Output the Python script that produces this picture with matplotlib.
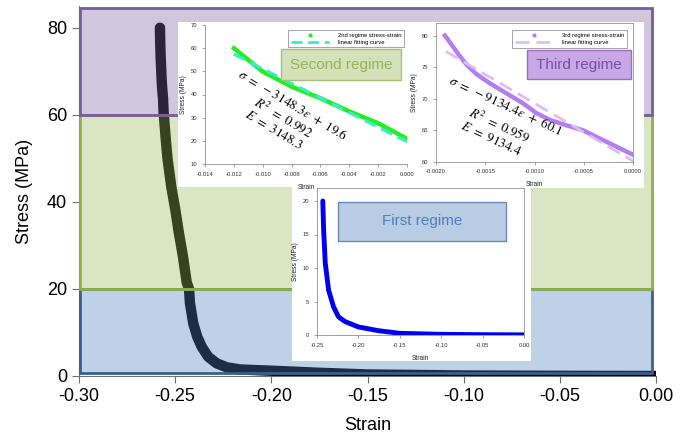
import matplotlib
matplotlib.use('Agg')
import matplotlib.pyplot as plt
from matplotlib.patches import Rectangle
from matplotlib.lines import Line2D
from matplotlib.ticker import FormatStrFormatter

plt.rcParams['font.family'] = ['Liberation Sans', 'DejaVu Sans']
plt.rcParams['mathtext.fontset'] = 'stix'

# ---------------- data ----------------
main_strain = [-0.2579, -0.2578, -0.2576, -0.2573, -0.2570, -0.2567, -0.2563, -0.2560,
               -0.2550, -0.2540, -0.2520, -0.2500, -0.2480, -0.2460, -0.2440,
               -0.2428, -0.2423, -0.2406, -0.2385, -0.2362, -0.2328, -0.2284,
               -0.2232, -0.2163, -0.1990, -0.1760, -0.1500, -0.1000, -0.0500, 0.0000]
main_stress = [80.0, 77.2, 73.8, 70.8, 67.7, 65.8, 63.7, 60.5,
               55.0, 50.0, 43.4, 38.4, 32.7, 27.6, 21.5,
               20.0, 16.7, 12.1, 9.0, 6.7, 4.4, 2.9,
               2.0, 1.5, 1.2, 0.75, 0.35, 0.12, 0.04, 0.0]

regime_low = [0.6, 20, 60]
regime_high = [20, 60, 84.6]
regime_fill = ['#4F81BD', '#9BBB59', '#8064A2']
regime_edge = ['#3A5F8E', '#8DB04A', '#7A5C9E']

first_strain = [-0.243, -0.242, -0.240, -0.236, -0.230, -0.224, -0.216, -0.200,
                -0.176, -0.150, -0.100, -0.050, 0.000]
first_stress = [20.0, 15.7, 10.7, 6.7, 4.2, 2.7, 2.0, 1.2, 0.65, 0.25, 0.1, 0.05, 0.02]

second_strain = [-0.012, -0.011, -0.010, -0.008, -0.006, -0.004, -0.002, 0.000]
second_stress = [60.0, 54.9, 49.9, 43.4, 38.4, 32.7, 27.6, 20.9]
second_fit_strain = [-0.012, 0.000]
second_fit_stress = [57.4, 19.6]

third_strain = [-0.00191, -0.00188, -0.00183, -0.00177, -0.00169, -0.00159, -0.00146,
                -0.00128, -0.00112, -0.00098, -0.00084, -0.00068, -0.00051, -0.00034,
                -0.00017, 0.0]
third_stress = [80.0, 79.4, 78.3, 77.0, 75.4, 73.9, 72.5, 70.8, 69.3, 67.7, 66.6, 65.8,
                65.0, 63.7, 62.4, 61.1]
third_fit_strain = [-0.0019, 0.0000]
third_fit_stress = [77.5, 60.1]

main_xticks = [-0.30, -0.25, -0.20, -0.15, -0.10, -0.05, 0.00]
main_yticks = [0, 20, 40, 60, 80]
first_xticks = [-0.25, -0.20, -0.15, -0.10, -0.05, 0.00]
first_yticks = [0, 5, 10, 15, 20]
second_xticks = [-0.014, -0.012, -0.010, -0.008, -0.006, -0.004, -0.002, 0.000]
second_yticks = [10, 20, 30, 40, 50, 60, 70]
third_xticks = [-0.0020, -0.0015, -0.0010, -0.0005, 0.0000]
third_yticks = [60, 65, 70, 75, 80]

eq2 = [r'$\sigma\ =\ -3148.3\varepsilon\ +\ 19.6$', r'$R^2\ =\ 0.992$', r'$E\ =\ 3148.3$']
eq3 = [r'$\sigma\ =\ -9134.4\varepsilon\ +\ 60.1$', r'$R^2\ =\ 0.959$', r'$E\ =\ 9134.4$']

# ---------------- figure ----------------
W, H = 681, 438
fig = plt.figure(figsize=(W / 100, H / 100), dpi=100)


def fx(px):
    return px / W


def fy(py):
    return 1 - py / H


def rect_px(x0, y0, x1, y1):
    return [fx(x0), fy(y1), fx(x1) - fx(x0), fy(y0) - fy(y1)]


ax = fig.add_axes(rect_px(79, 6, 656, 376))
ax.set_zorder(0)
ax.plot(main_strain, main_stress, color='black', lw=7.5, solid_capstyle='round',
        solid_joinstyle='round', zorder=1)
for lo, hi, fc, ec in zip(regime_low, regime_high, regime_fill, regime_edge):
    ax.add_patch(Rectangle((-0.2995, lo), 0.2975, hi - lo, facecolor=fc, alpha=0.36,
                           edgecolor='none', zorder=2))
    ax.add_patch(Rectangle((-0.2995, lo), 0.2975, hi - lo, facecolor='none',
                           edgecolor=ec, lw=2.0, zorder=3))
ax.set_xlim(-0.30, 0.0)
ax.set_ylim(0, 85)
ax.set_xticks(main_xticks)
ax.set_yticks(main_yticks)
ax.xaxis.set_major_formatter(FormatStrFormatter('%.2f'))
ax.tick_params(labelsize=13, length=5, color='#707070', direction='out')
for s in ['top', 'right']:
    ax.spines[s].set_visible(False)
for s in ['left', 'bottom']:
    ax.spines[s].set_color('#707070')
ax.set_xlabel('Strain', fontsize=13, labelpad=9)
ax.set_ylabel('Stress (MPa)', fontsize=13, labelpad=10)

# white backgrounds of inset pictures
for (x0, y0, x1, y1) in [(178, 22, 410, 187), (403, 22, 644, 188), (292, 186, 531, 361)]:
    fig.patches.append(Rectangle((fx(x0), fy(y1)), fx(x1) - fx(x0), fy(y0) - fy(y1),
                                 transform=fig.transFigure, facecolor='white',
                                 edgecolor='none', zorder=2))

tick_kw = dict(labelsize=4.2, length=2, width=0.5, color='#808080', labelcolor='#333333')

# ---- second regime inset ----
a2 = fig.add_axes(rect_px(205, 25, 407, 164))
a2.set_zorder(3)
a2.plot(second_strain, second_stress, color='#22EE22', lw=3.2, zorder=3,
        solid_joinstyle='round')
a2.plot(second_fit_strain, second_fit_stress, color='#3CEBC8', lw=2.2, ls=(0, (4, 2)), zorder=4)
a2.set_xlim(-0.014, 0.0)
a2.set_ylim(10, 70)
a2.set_xticks(second_xticks)
a2.set_yticks(second_yticks)
a2.xaxis.set_major_formatter(FormatStrFormatter('%.3f'))
a2.tick_params(**tick_kw)
for s in ['top', 'right']:
    a2.spines[s].set_visible(False)
for s in ['left', 'bottom']:
    a2.spines[s].set_color('#909090')
    a2.spines[s].set_linewidth(0.6)
a2.set_xlabel('Strain', fontsize=4.8, labelpad=5, color='#222222')
a2.set_ylabel('Stress (MPa)', fontsize=4.8, labelpad=3, color='#222222')
h2 = [Line2D([], [], color='#22EE22', marker='o', ms=2, ls='none'),
      Line2D([], [], color='#3CEBC8', lw=2, ls=(0, (4, 2)))]
lg2 = a2.legend(h2, ['2nd regime stress-strain', 'linear fitting curve'], loc='upper right',
                bbox_to_anchor=(1.0, 0.985), fontsize=4.2, fancybox=False, framealpha=1,
                edgecolor='#808080', handlelength=6.5, borderpad=0.5, labelspacing=0.25,
                handletextpad=1.5)
lg2.get_frame().set_linewidth(0.5)

# ---- third regime inset ----
a3 = fig.add_axes(rect_px(436, 23, 633, 161.7))
a3.set_zorder(3)
a3.plot(third_strain, third_stress, color='#B57EF0', lw=3.2, zorder=3, solid_joinstyle='round')
a3.plot(third_fit_strain, third_fit_stress, color='#DDBDF5', lw=2.0, ls=(0, (5, 2.5)), zorder=4)
a3.set_xlim(-0.0020, 0.0)
a3.set_ylim(60, 82)
a3.set_xticks(third_xticks)
a3.set_yticks(third_yticks)
a3.xaxis.set_major_formatter(FormatStrFormatter('%.4f'))
a3.tick_params(**tick_kw)
for s in a3.spines.values():
    s.set_color('#909090')
    s.set_linewidth(0.6)
a3.set_xlabel('Strain', fontsize=4.8, labelpad=5, color='#222222')
a3.set_ylabel('Stress (MPa)', fontsize=4.8, labelpad=3, color='#222222')
h3 = [Line2D([], [], color='#B57EF0', marker='o', ms=2, ls='none'),
      Line2D([], [], color='#DDBDF5', lw=2, ls=(0, (5, 2.5)))]
lg3 = a3.legend(h3, ['3rd regime stress-strain', 'linear fitting curve'], loc='upper right',
                bbox_to_anchor=(0.985, 0.97), fontsize=4.2, fancybox=False, framealpha=1,
                edgecolor='#808080', handlelength=6.5, borderpad=0.5, labelspacing=0.25,
                handletextpad=1.5)
lg3.get_frame().set_linewidth(0.5)

# ---- first regime inset ----
a1 = fig.add_axes(rect_px(317, 187.6, 524, 335))
a1.set_zorder(3)
a1.plot(first_strain, first_stress, color='#0000EE', lw=3.5, solid_capstyle='round',
        solid_joinstyle='round', zorder=3)
a1.set_xlim(-0.25, 0.0)
a1.set_ylim(0, 22)
a1.set_xticks(first_xticks)
a1.set_yticks(first_yticks)
a1.xaxis.set_major_formatter(FormatStrFormatter('%.2f'))
a1.yaxis.set_major_formatter(FormatStrFormatter('%d'))
a1.tick_params(**tick_kw)
for s in a1.spines.values():
    s.set_color('#909090')
    s.set_linewidth(0.6)
a1.set_xlabel('Strain', fontsize=4.8, labelpad=5, color='#222222')
a1.set_ylabel('Stress (MPa)', fontsize=4.8, labelpad=3, color='#222222')

# ---- regime label boxes ----
boxes = [((281, 49, 401, 80), 'Second regime', '#D3E2B8', '#A6C07A', '#93B55A'),
         ((527, 50, 631, 79), 'Third regime', '#C9A8E6', '#9A6CC4', '#7A4CA8'),
         ((338, 202, 506, 241), 'First regime', '#B8CCE4', '#6B88B5', '#4F7FC0')]
for (x0, y0, x1, y1), label, fc, ec, tc in boxes:
    fig.patches.append(Rectangle((fx(x0), fy(y1)), fx(x1) - fx(x0), fy(y0) - fy(y1),
                                 transform=fig.transFigure, facecolor=fc, edgecolor=ec,
                                 lw=1.0, zorder=6))
    t = fig.text(fx((x0 + x1) / 2), fy((y0 + y1) / 2), label, ha='center', va='center',
                 fontsize=11, color=tc)
    t.set_zorder(7)

# ---- equations ----
eq2_pos = [(293, 105), (283, 118), (274, 130)]
eq3_pos = [(506, 106), (499, 125), (491, 139)]
for txt, (px, py) in zip(eq2, eq2_pos):
    t = fig.text(fx(px), fy(py), txt, ha='center', va='center', rotation=-31,
                 rotation_mode='anchor', fontsize=9.5, color='black')
    t.set_zorder(8)
for txt, (px, py) in zip(eq3, eq3_pos):
    t = fig.text(fx(px), fy(py), txt, ha='center', va='center', rotation=-25,
                 rotation_mode='anchor', fontsize=9.5, color='black')
    t.set_zorder(8)

fig.savefig('out.png', dpi=100)
